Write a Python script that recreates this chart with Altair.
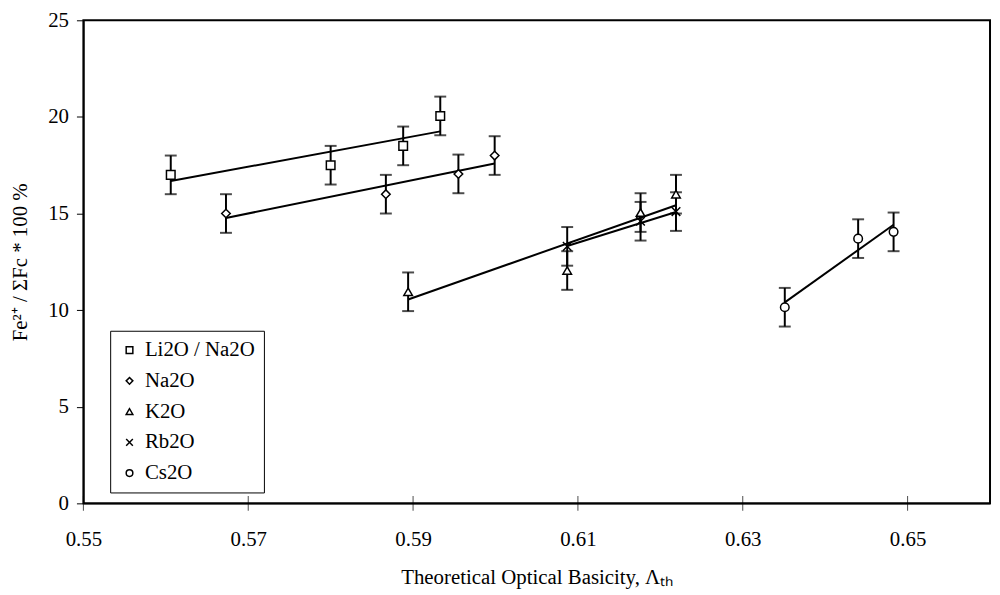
import altair as alt
import pandas as pd

series_names = ["Li2O / Na2O", "Na2O", "K2O", "Rb2O", "Cs2O"]
series_shapes = ["square", "diamond", "triangle-up", "M-1,-1L1,1M-1,1L1,-1", "circle"]

# measured points (x = theoretical optical basicity, y = Fe2+/sum Fe * 100 %)
li_x = [0.5606, 0.5800, 0.5888, 0.5933]
li_y = [17.0, 17.5, 18.5, 20.05]
li_err = [1.0, 1.0, 1.0, 1.0]

na_x = [0.5673, 0.5867, 0.5955, 0.5999]
na_y = [15.0, 16.0, 17.05, 18.0]
na_err = [1.0, 1.0, 1.0, 1.0]

k_x = [0.5894, 0.6087, 0.6176, 0.6219]
k_y = [10.95, 12.05, 15.05, 16.0]
k_err = [1.0, 1.0, 1.0, 1.0]

rb_x = [0.6087, 0.6176, 0.6219]
rb_y = [13.3, 14.6, 15.1]
rb_err = [1.0, 1.0, 1.0]

cs_x = [0.6351, 0.6440, 0.6483]
cs_y = [10.15, 13.7, 14.05]
cs_err = [1.0, 1.0, 1.0]

# fitted straight lines (end points)
li_fit_x = [0.5606, 0.5933]
li_fit_y = [16.68, 19.25]
na_fit_x = [0.5673, 0.5999]
na_fit_y = [14.77, 17.59]
k_fit_x = [0.5894, 0.6219]
k_fit_y = [10.55, 15.43]
rb_fit_x = [0.6087, 0.6219]
rb_fit_y = [13.32, 15.08]
cs_fit_x = [0.6351, 0.6483]
cs_fit_y = [10.40, 14.42]

x_ticks = [0.55, 0.57, 0.59, 0.61, 0.63, 0.65]
y_ticks = [0, 5, 10, 15, 20, 25]

pts_src = [
    (series_names[0], li_x, li_y, li_err),
    (series_names[1], na_x, na_y, na_err),
    (series_names[2], k_x, k_y, k_err),
    (series_names[3], rb_x, rb_y, rb_err),
    (series_names[4], cs_x, cs_y, cs_err),
]
rows = []
for name, xs, ys, es in pts_src:
    for xv, yv, ev in zip(xs, ys, es):
        rows.append({"series": name, "bg": name, "x": xv, "y": yv,
                     "lo": yv - ev, "hi": yv + ev})
pts = pd.DataFrame(rows)

fit_src = [
    (series_names[0], li_fit_x, li_fit_y),
    (series_names[1], na_fit_x, na_fit_y),
    (series_names[2], k_fit_x, k_fit_y),
    (series_names[3], rb_fit_x, rb_fit_y),
    (series_names[4], cs_fit_x, cs_fit_y),
]
frows = []
for name, xs, ys in fit_src:
    for xv, yv in zip(xs, ys):
        frows.append({"series": name, "x": xv, "y": yv})
fits = pd.DataFrame(frows)

ticks_df = pd.DataFrame({"t": x_ticks})

FONT = "Liberation Serif"
FS = 21

x_scale = alt.Scale(domain=[0.55, 0.66], nice=False, zero=False)
y_scale = alt.Scale(domain=[0, 25], nice=False)

x_axis = alt.Axis(
    title="Theoretical Optical Basicity, Λₜₕ",
    values=x_ticks, format=".2f", ticks=False, grid=False,
    labelPadding=25, titlePadding=18, labelFlush=False,
    labelFont=FONT, titleFont=FONT, labelFontSize=FS, titleFontSize=FS,
    titleFontWeight="normal", labelColor="black", titleColor="black",
    domainColor="black", domainWidth=1.5,
)
y_axis = alt.Axis(
    title="Fe²⁺ / ΣFc * 100 %",
    values=y_ticks, tickSize=7, grid=False,
    labelPadding=8, titleX=-53,
    labelFont=FONT, titleFont=FONT, labelFontSize=FS, titleFontSize=FS,
    titleFontWeight="normal", labelColor="black", titleColor="black",
    domainColor="black", domainWidth=1.5, tickColor="black", tickWidth=1,
)

base = alt.Chart(pts)

lines = alt.Chart(fits).mark_line(color="black", strokeWidth=2).encode(
    x=alt.X("x:Q", scale=x_scale, axis=x_axis),
    y=alt.Y("y:Q", scale=y_scale, axis=y_axis),
    detail="series:N",
)

bars = base.mark_rule(color="black", strokeWidth=2).encode(
    x="x:Q", y="lo:Q", y2="hi:Q"
)
cap_lo = base.mark_tick(color="black", orient="horizontal", size=12, thickness=2).encode(
    x="x:Q", y="lo:Q"
)
cap_hi = base.mark_tick(color="black", orient="horizontal", size=12, thickness=2).encode(
    x="x:Q", y="hi:Q"
)

# white backing so the open markers hide the lines behind them
backing = base.mark_point(filled=True, color="white", size=75, opacity=1).encode(
    x="x:Q",
    y="y:Q",
    shape=alt.Shape("bg:N", scale=alt.Scale(domain=series_names, range=series_shapes),
                    legend=None),
)

points = base.mark_point(
    filled=False, color="black", strokeWidth=1.5, size=75, opacity=1
).encode(
    x="x:Q",
    y="y:Q",
    shape=alt.Shape(
        "series:N",
        scale=alt.Scale(domain=series_names, range=series_shapes),
        legend=alt.Legend(
            title=None, orient="none", legendX=27, legendY=313,
            strokeColor="black", fillColor="white", padding=9,
            labelFont=FONT, labelFontSize=FS, labelColor="black",
            symbolStrokeColor="black",
            symbolStrokeWidth=1.5, symbolSize=45, rowPadding=9,
            labelOffset=5,
        ),
    ),
)

xticks = alt.Chart(ticks_df).mark_tick(
    color="black", orient="vertical", size=15, thickness=1
).encode(x="t:Q", y=alt.datum(0))

chart = alt.layer(lines, bars, cap_lo, cap_hi, backing, points, xticks).resolve_scale(
    shape="independent"
).properties(
    width=914, height=487,
    background="white",
    autosize=alt.AutoSizeParams(type="none"),
    padding={"left": 76, "top": 10, "right": 2, "bottom": 90},
).configure_view(
    stroke="black", strokeWidth=2
)

chart.save("out.html", embed_options={"renderer": "svg", "actions": False})
